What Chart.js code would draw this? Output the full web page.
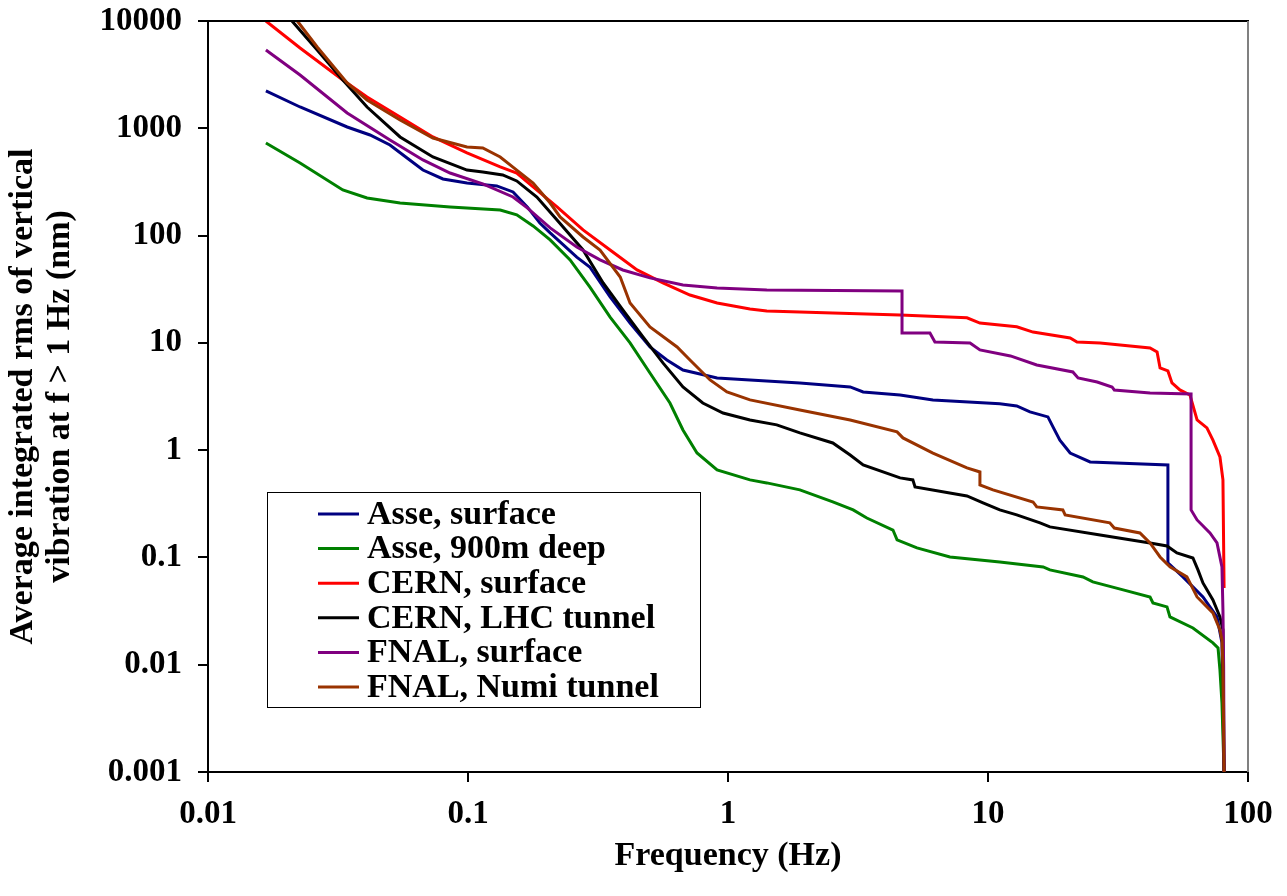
<!DOCTYPE html>
<html><head><meta charset="utf-8">
<script src="https://cdn.jsdelivr.net/npm/chart.js@4.4.1/dist/chart.umd.min.js"></script>
<style>html,body{margin:0;padding:0;background:#fff;}#wrap{width:1287px;height:896px;position:relative;}</style>
</head><body><div id="wrap"><canvas id="c" width="1287" height="896"></canvas></div>
<script>
const xTickValues = [0.01, 0.1, 1, 10, 100];
const xTickLabels = ['0.01', '0.1', '1', '10', '100'];
const yTickValues = [0.001, 0.01, 0.1, 1, 10, 100, 1000, 10000];
const yTickLabels = ['0.001', '0.01', '0.1', '1', '10', '100', '1000', '10000'];
const xTitle = 'Frequency (Hz)';
const yTitle = ['Average integrated rms of vertical', 'vibration at f > 1 Hz (nm)'];

const seriesNames = ['Asse, surface', 'Asse, 900m deep', 'CERN, surface', 'CERN, LHC tunnel', 'FNAL, surface', 'FNAL, Numi tunnel'];
const seriesColors = ['#000080', '#008000', '#FF0000', '#000000', '#800080', '#993300'];

const asseSurfX = [0.0167,0.0226,0.0343,0.042,0.0501,0.0583,0.0671,0.0801,0.0991,0.129,0.149,0.169,0.189,0.207,0.262,0.294,0.352,0.420,0.501,0.582,0.671,0.908,1.215,1.89,2.95,3.31,4.59,6.14,11.1,12.9,14.5,17.0,17.8,18.9,20.7,24.7,49.2,49.2,56.2,67.1,76.0,79.4,80.9];
const asseSurfY = [2230,1579,1028,866,699,529,408,337,309,290,255,185,131,106,63,51,26.8,15.3,9.16,6.93,5.58,4.71,4.51,4.23,3.88,3.49,3.27,2.94,2.70,2.58,2.27,2.04,1.64,1.24,0.94,0.776,0.728,0.0889,0.0658,0.0428,0.0279,0.016,0.001];

const asseDeepX = [0.0167,0.0226,0.033,0.0409,0.0548,0.0853,0.133,0.154,0.178,0.207,0.247,0.294,0.352,0.420,0.501,0.598,0.671,0.760,0.908,1.215,1.41,1.89,2.53,3.03,3.42,4.31,4.47,5.33,7.14,11.1,16.3,17.3,23.2,25.3,33.1,42.0,43.1,48.8,50.1,61.4,73.3,76.7,78.0,79.4,80.9];
const asseDeepY = [729,475,266,224,201,185,173,156,123,91,59.3,33.2,17.4,9.98,5.24,2.75,1.54,0.942,0.654,0.528,0.495,0.426,0.329,0.277,0.233,0.180,0.146,0.1227,0.101,0.0908,0.0816,0.0765,0.0658,0.0591,0.0498,0.0428,0.0377,0.0346,0.0279,0.0220,0.0160,0.01434,0.00894,0.0044,0.001];

const cernSurfX = [0.0167,0.0226,0.033,0.0409,0.0548,0.0733,0.0991,0.133,0.154,0.178,0.220,0.277,0.352,0.447,0.562,0.714,0.908,1.215,1.41,2.53,4.59,8.30,9.31,12.9,14.9,20.7,22.0,27.0,42.0,44.7,45.9,49.2,51.0,54.7,59.8,63.7,69.5,73.3,78.0,80.1,80.9];
const cernSurfY = [10000,5600,2820,1957,1275,830,589,436,383,284,185,113,73.4,47.8,36.2,27.9,23.5,20.7,19.8,19.0,18.2,17.1,15.3,14.1,12.6,11.1,10.2,9.98,8.96,8.23,5.83,5.47,4.23,3.64,3.27,1.91,1.61,1.24,0.864,0.528,0.052];

const cernLhcX = [0.0167,0.0212,0.0263,0.033,0.0409,0.0548,0.0733,0.0991,0.114,0.136,0.154,0.184,0.220,0.277,0.331,0.394,0.471,0.562,0.671,0.80,0.957,1.215,1.54,1.89,2.53,2.95,3.31,4.59,5.14,5.24,8.30,9.57,11.1,12.9,15.85,17.3,27.0,42.0,48.8,53.3,61.4,64.2,67.1,73.3,78.0,80.1,80.9];
const cernLhcY = [19500,9790,5367,2820,1579,830,540,408,391,367,323,229,140,73.4,36.2,20.3,11.35,6.50,3.88,2.75,2.22,1.91,1.72,1.45,1.167,0.902,0.728,0.551,0.528,0.454,0.374,0.322,0.277,0.249,0.210,0.1925,0.162,0.1365,0.128,0.110,0.0989,0.0765,0.0578,0.0402,0.0279,0.0211,0.001];

const fnalSurfX = [0.0167,0.0226,0.0343,0.0501,0.0671,0.0853,0.114,0.149,0.169,0.207,0.262,0.322,0.394,0.501,0.671,0.908,1.41,4.67,4.67,5.98,6.25,8.53,9.31,12.2,15.4,21.2,22.2,26.3,30.0,30.6,42.0,60.4,60.4,63.7,71.4,76.0,79.4,80.1,80.6,80.9];
const fnalSurfY = [5367,3139,1389,778,507,383,303,229,181,118,78.3,59.3,47.8,40.3,34.6,32.5,31.1,30.5,12.37,12.37,10.2,9.98,8.59,7.55,6.22,5.36,4.71,4.32,3.88,3.64,3.41,3.34,0.277,0.2236,0.169,0.1365,0.0816,0.0324,0.00954,0.001];

const fnalNumiX = [0.0167,0.0222,0.0263,0.0343,0.0409,0.0548,0.0733,0.0991,0.114,0.133,0.154,0.178,0.207,0.226,0.277,0.322,0.385,0.420,0.501,0.637,0.714,0.853,0.991,1.215,1.89,2.95,4.47,4.71,6.14,8.30,9.31,9.31,10.45,14.9,15.4,19.4,19.8,29.4,30.6,38.4,42.0,45.9,50.1,58.2,63.7,73.3,78.0,79.4,80.1,80.9];
const fnalNumiY = [24000,9790,5723,2644,1835,1195,812,669,655,540,408,309,201,149,97,73.4,41.1,23.5,14.1,9.16,6.93,4.51,3.49,2.94,2.37,1.91,1.48,1.30,0.94,0.683,0.626,0.474,0.426,0.329,0.2955,0.277,0.249,0.210,0.188,0.169,0.1365,0.101,0.0816,0.0658,0.0428,0.0304,0.0211,0.0170,0.00954,0.001];

const seriesX = [asseSurfX, asseDeepX, cernSurfX, cernLhcX, fnalSurfX, fnalNumiX];
const seriesY = [asseSurfY, asseDeepY, cernSurfY, cernLhcY, fnalSurfY, fnalNumiY];

const FONT = "'Liberation Serif', 'Times New Roman', serif";
Chart.defaults.color = '#000';

const datasets = seriesNames.map((name, i) => ({
  label: name,
  data: seriesX[i].map((x, j) => ({x: x, y: seriesY[i][j]})),
  borderColor: seriesColors[i],
  backgroundColor: seriesColors[i],
  borderWidth: 3,
  pointRadius: 0,
  tension: 0,
  fill: false,
  order: seriesNames.length - i
}));

const framePlugin = {
  id: 'frame',
  afterDraw(chart) {
    const {ctx, chartArea: a} = chart;
    ctx.save();
    ctx.lineWidth = 2;
    ctx.strokeStyle = '#000';
    ctx.beginPath(); ctx.moveTo(a.left - 1, a.top); ctx.lineTo(a.right + 1, a.top); ctx.stroke();
    ctx.strokeStyle = '#808080';
    ctx.beginPath(); ctx.moveTo(a.right, a.top); ctx.lineTo(a.right, a.bottom); ctx.stroke();
    // legend box
    const lx = a.left + 59, ly = a.top + 471, lw = 433, lh = 215;
    ctx.fillStyle = '#fff';
    ctx.fillRect(lx, ly, lw, lh);
    ctx.lineWidth = 1;
    ctx.strokeStyle = '#000';
    ctx.strokeRect(lx + 0.5, ly + 0.5, lw, lh);
    ctx.font = 'bold 34px ' + FONT;
    ctx.textBaseline = 'middle';
    ctx.textAlign = 'left';
    chart.data.datasets.forEach((ds, i) => {
      const ry = ly + 22 + i * 34.6;
      ctx.strokeStyle = ds.borderColor;
      ctx.lineWidth = 3;
      ctx.beginPath(); ctx.moveTo(lx + 51, ry); ctx.lineTo(lx + 92, ry); ctx.stroke();
      ctx.fillStyle = '#000';
      ctx.fillText(ds.label, lx + 100, ry + 1);
    });
    ctx.restore();
  }
};

new Chart(document.getElementById('c'), {
  type: 'line',
  data: {datasets},
  options: {
    responsive: false,
    animation: false,
    events: [],
    layout: {padding: {top: 21, right: 39, left: 0, bottom: 0}},
    plugins: {legend: {display: false}, tooltip: {enabled: false}},
    scales: {
      x: {
        type: 'logarithmic', min: 0.01, max: 100,
        afterBuildTicks: (s) => { s.ticks = xTickValues.map(v => ({value: v})); },
        afterFit: (s) => { s.height = 124; },
        ticks: {autoSkip: false, maxRotation: 0, padding: 13, color: '#000',
          font: {family: FONT, size: 33, weight: 'bold'},
          callback: (v, i) => xTickLabels[i]},
        grid: {display: true, drawOnChartArea: false, drawTicks: true, tickLength: 10, color: '#000', lineWidth: 2},
        border: {display: true, color: '#000', width: 2},
        title: {display: true, text: xTitle, color: '#000', font: {family: FONT, size: 34, weight: 'bold'}, padding: {top: 0, bottom: 19}}
      },
      y: {
        type: 'logarithmic', min: 0.001, max: 10000,
        afterBuildTicks: (s) => { s.ticks = yTickValues.map(v => ({value: v})); },
        afterFit: (s) => { s.width = 208; },
        ticks: {autoSkip: false, padding: 16, color: '#000',
          font: {family: FONT, size: 33, weight: 'bold', lineHeight: 0.3},
          callback: (v, i) => yTickLabels[i]},
        grid: {display: true, drawOnChartArea: false, drawTicks: true, tickLength: 10, color: '#000', lineWidth: 2},
        border: {display: true, color: '#000', width: 2},
        title: {display: true, text: yTitle, color: '#000', font: {family: FONT, size: 34, weight: 'bold', lineHeight: 1.09}, padding: {top: 4.5, bottom: 0}}
      }
    }
  },
  plugins: [framePlugin]
});
</script></body></html>
